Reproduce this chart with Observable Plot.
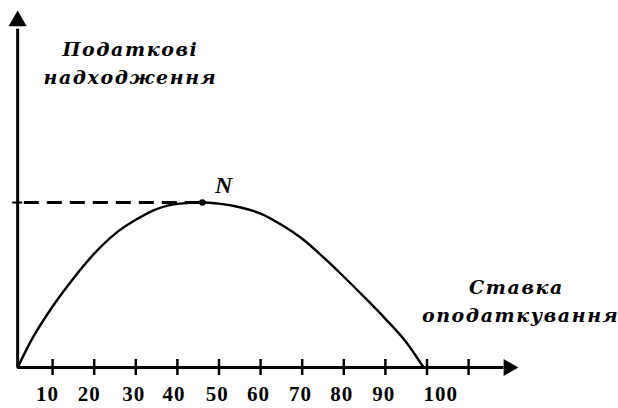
<!DOCTYPE html>
<html><head><meta charset="utf-8">
<script src="https://cdn.jsdelivr.net/npm/d3@7"></script>
<script src="https://cdn.jsdelivr.net/npm/@observablehq/plot@0.6"></script>
<style>
html,body{margin:0;padding:0;background:#fff;}
g[font-family="DejaVu Serif"] text{letter-spacing:1.6px;}
g[font-family="Liberation Serif"][font-style="normal"] text{letter-spacing:1px;}
</style></head><body><div id="chart"></div>
<script>
// Laffer curve: tax rate (%) vs tax revenue (peak = 100)
const taxRate = [1.6, 5, 10, 15, 20, 25, 30, 35, 40, 46, 50, 55, 60, 65, 70, 75, 80, 85, 90, 95, 99.2];
const revenue = [0, 17, 37, 54, 69, 81, 89.5, 96, 99.2, 100, 99.3, 97.1, 93.3, 86.5, 78, 67, 55, 42.5, 29.5, 15.3, 0];
const xTicks = [10, 20, 30, 40, 50, 60, 70, 80, 90, 100, 110];
const tickLabels = ["10", "20", "30", "40", "50", "60", "70", "80", "90", "100"];
const labelAt = [8.8, 18.8, 29.5, 39.2, 49.6, 59.5, 69.6, 79.5, 89.6, 103.3];
const peakRate = 46, peakRevenue = 100, peakName = "N";
const originRate = 1.6;
const xAxisArrow = 119.6, yAxisArrow = 210;
const yTitle = ["Податкові", "надходження"];
const xTitle = ["Ставка", "оподаткування"];

const pxPerY = 363 / 220;
const curve = taxRate.map((x, i) => ({x, y: revenue[i]}));

const plot = Plot.plot({
  width: 618, height: 408,
  marginLeft: 10.5, marginRight: 108.3, marginTop: 4, marginBottom: 41,
  x: {domain: [0, 120], axis: null},
  y: {domain: [0, 220], axis: null},
  style: {background: "#fff"},
  marks: [
    Plot.ruleY([0], {x1: originRate, x2: 118.5, strokeWidth: 3, stroke: "#000"}),
    Plot.ruleX([originRate], {y1: 0, y2: 205, strokeWidth: 3, stroke: "#000"}),
    Plot.dot([0], {x: xAxisArrow, y: 0, symbol: "triangle", r: 6.3, fill: "#000", stroke: "none", rotate: 90}),
    Plot.dot([0], {x: originRate, y: yAxisArrow, symbol: "triangle", r: 6.7, fill: "#000", stroke: "none"}),
    Plot.ruleX(xTicks, {x: d => d, y1: -8 / pxPerY, y2: 8 / pxPerY, strokeWidth: 2.5, stroke: "#000"}),
    Plot.ruleY([peakRevenue], {x1: 0.4, x2: 2.8, strokeWidth: 2, stroke: "#000"}),
    Plot.ruleY([peakRevenue], {x1: 3.2, x2: peakRate, strokeWidth: 3, stroke: "#000", strokeDasharray: "15,8"}),
    Plot.line(curve, {x: "x", y: "y", curve: "monotone-x", strokeWidth: 2.4, stroke: "#000"}),
    Plot.dot([0], {x: peakRate, y: peakRevenue, r: 3.3, fill: "#000", stroke: "none"}),
    Plot.text([peakName], {x: 51.1, y: 105.5, text: d => d, lineAnchor: "bottom", fontFamily: "Liberation Serif", fontStyle: "italic", fontWeight: "bold", fontSize: 24, fill: "#000"}),
    Plot.text(tickLabels, {x: (d, i) => labelAt[i], y: 0, dy: 27, text: d => d, lineAnchor: "middle", fontFamily: "Liberation Serif", fontStyle: "normal", fontWeight: "bold", fontSize: 21, fill: "#000"}),
    Plot.text(yTitle, {x: 28.7, y: (d, i) => [189, 172][i], text: d => d, lineAnchor: "bottom", fontFamily: "DejaVu Serif", fontStyle: "italic", fontWeight: "bold", fontSize: 19, fill: "#000"}),
    Plot.text(xTitle, {x: (d, i) => [121.5, 122.5][i], y: (d, i) => [44.8, 27.3][i], text: d => d, lineAnchor: "bottom", fontFamily: "DejaVu Serif", fontStyle: "italic", fontWeight: "bold", fontSize: 19, fill: "#000"})
  ]
});
document.getElementById("chart").appendChild(plot);
</script></body></html>
